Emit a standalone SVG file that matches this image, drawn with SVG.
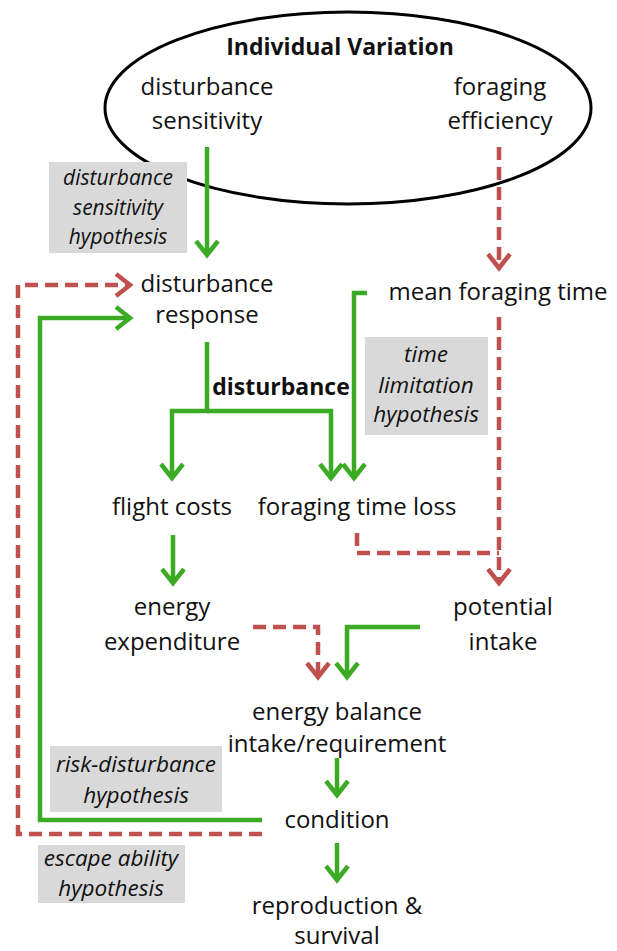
<svg xmlns="http://www.w3.org/2000/svg" width="617" height="951" viewBox="0 0 617 951">
<style>
.t{font-family:"Open Sans","Liberation Sans",sans-serif;font-size:24px;fill:#111;text-anchor:middle}
.b{font-weight:bold;font-size:23px}
.i{font-family:"Open Sans","Liberation Sans",sans-serif;font-size:22.5px;font-style:italic;fill:#111;text-anchor:middle}
.s{font-size:21px}
.box{fill:#d9d9d9}
.g{fill:none;stroke:#3cab24;stroke-width:4.5}
.r{fill:none;stroke:#c0504d;stroke-width:4.5;stroke-dasharray:13 7}
</style>
<defs>
<marker id="ag" markerUnits="userSpaceOnUse" markerWidth="30" markerHeight="30" viewBox="-15 -15 30 30" refX="0" refY="0" orient="auto">
<path d="M-14,-11 L0,0 L-14,11" fill="none" stroke="#3cab24" stroke-width="4.5"/>
</marker>
<marker id="ar" markerUnits="userSpaceOnUse" markerWidth="30" markerHeight="30" viewBox="-15 -15 30 30" refX="0" refY="0" orient="auto">
<path d="M-14,-11 L0,0 L-14,11" fill="none" stroke="#c0504d" stroke-width="4.5"/>
</marker>
</defs>

<g id="individual-variation">
<ellipse cx="348" cy="108" rx="243" ry="96" fill="none" stroke="#000" stroke-width="3"/>
<text class="t b" x="340" y="55">Individual Variation</text>
<text class="t" x="207" y="95">disturbance</text>
<text class="t" x="207" y="129">sensitivity</text>
<text class="t" x="500" y="95">foraging</text>
<text class="t" x="500" y="129">efficiency</text>
</g>

<g id="hyp-sensitivity">
<rect class="box" x="49" y="162" width="138" height="91"/>
<text class="i s" x="118" y="185">disturbance</text>
<text class="i s" x="118" y="215">sensitivity</text>
<text class="i s" x="118" y="244">hypothesis</text>
</g>

<g id="disturbance-response">
<text class="t" x="207" y="292">disturbance</text>
<text class="t" x="207" y="323">response</text>
</g>

<g id="mean-foraging-time">
<text class="t" x="498" y="300">mean foraging time</text>
</g>

<g id="hyp-time">
<rect class="box" x="365" y="337" width="123" height="98"/>
<text class="i" x="426" y="362">time</text>
<text class="i" x="426" y="393">limitation</text>
<text class="i" x="426" y="422">hypothesis</text>
</g>

<g id="disturbance-label">
<text class="t b" x="281" y="395">disturbance</text>
</g>

<g id="flight-costs">
<text class="t" x="172" y="515">flight costs</text>
</g>

<g id="foraging-time-loss">
<text class="t" x="357" y="515">foraging time loss</text>
</g>

<g id="energy-expenditure">
<text class="t" x="172" y="615">energy</text>
<text class="t" x="172" y="650">expenditure</text>
</g>

<g id="potential-intake">
<text class="t" x="503" y="615">potential</text>
<text class="t" x="503" y="650">intake</text>
</g>

<g id="energy-balance">
<text class="t" x="337" y="720">energy balance</text>
<text class="t" x="337" y="752">intake/requirement</text>
</g>

<g id="hyp-risk">
<rect class="box" x="50" y="746" width="172" height="66"/>
<text class="i" x="136" y="772">risk-disturbance</text>
<text class="i" x="136" y="803">hypothesis</text>
</g>

<g id="condition">
<text class="t" x="337" y="828">condition</text>
</g>

<g id="hyp-escape">
<rect class="box" x="38" y="845" width="147" height="58"/>
<text class="i" x="111" y="866">escape ability</text>
<text class="i" x="111" y="896">hypothesis</text>
</g>

<g id="reproduction">
<text class="t" x="337" y="914">reproduction &amp;</text>
<text class="t" x="337" y="944">survival</text>
</g>

<g id="connectors">
<path class="g" d="M207,147 V255" marker-end="url(#ag)"/>
<path class="r" d="M499,147 V268" marker-end="url(#ar)"/>
<path class="g" d="M367,293 H354 V478" marker-end="url(#ag)"/>
<path class="g" d="M207,342 V411 H172 V478" marker-end="url(#ag)"/>
<path class="g" d="M207,411 H331 V478" marker-end="url(#ag)"/>
<path class="r" d="M499,317 V583" marker-end="url(#ar)"/>
<path class="r" d="M357,533 V553 H499"/>
<path class="g" d="M173,535 V583" marker-end="url(#ag)"/>
<path class="r" d="M253,627 H318 V677" marker-end="url(#ar)"/>
<path class="g" d="M420,627 H347 V677" marker-end="url(#ag)"/>
<path class="g" d="M337,758 V795" marker-end="url(#ag)"/>
<path class="g" d="M337,843 V880" marker-end="url(#ag)"/>
<path class="g" d="M262,820 H40 V318 H130" marker-end="url(#ag)"/>
<path class="r" d="M262,834 H18 V285 H130" marker-end="url(#ar)"/>
</g>
</svg>
